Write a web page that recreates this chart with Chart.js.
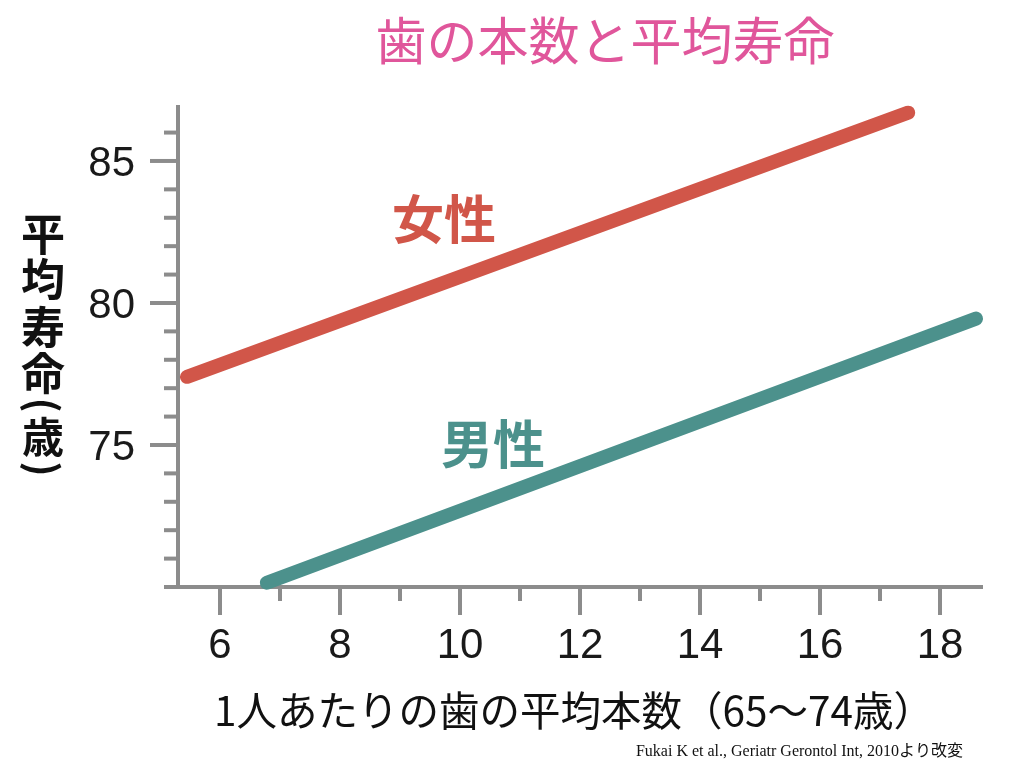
<!DOCTYPE html>
<html>
<head>
<meta charset="utf-8">
<script src="https://cdn.jsdelivr.net/npm/chart.js@4/dist/chart.umd.min.js"></script>
<style>
  html, body { margin: 0; padding: 0; background: #fff; }
  #wrap { width: 1024px; height: 768px; position: relative; }
</style>
</head>
<body>
<div id="wrap"><canvas id="myChart"></canvas></div>
<script>
// values
var femaleX = [5.45, 17.47];
var femaleY = [77.4, 86.7];
var maleX = [6.78, 18.6];
var maleY = [70.15, 79.45];
var xLabelTicks = [6, 8, 10, 12, 14, 16, 18];
var yLabelTicks = [75, 80, 85];

var titleText = '歯の本数と平均寿命';
var xTitleText = '1人あたりの歯の平均本数（65〜74歳）';
var yTitleChars = ['平', '均', '寿', '命', '(', '歳', ')'];
var sourceText = 'Fukai K et al., Geriatr Gerontol Int, 2010より改変';

var red = 'rgb(209, 86, 73)';
var teal = 'rgb(76, 145, 140)';
var axisGray = '#8c8c8c';
var cjk = '"Noto Sans CJK JP", "Noto Sans", sans-serif';

function toPoints(xs, ys) {
    return xs.map(function (x, i) { return { x: x, y: ys[i] }; });
}

// tick marks: long ones under labels, short ones in between
var tickMarks = {
    id: 'tickMarks',
    afterDraw: function (chart) {
        var c = chart.ctx;
        var xs = chart.scales.x, ys = chart.scales.y;
        var a = chart.chartArea;
        c.save();
        c.strokeStyle = axisGray;
        c.lineWidth = 4;
        xs.ticks.forEach(function (t) {
            var px = xs.getPixelForValue(t.value);
            var len = xLabelTicks.indexOf(t.value) >= 0 ? 28 : 14;
            c.beginPath();
            c.moveTo(px, a.bottom);
            c.lineTo(px, a.bottom + len);
            c.stroke();
        });
        ys.ticks.forEach(function (t) {
            var py = ys.getPixelForValue(t.value);
            var len = yLabelTicks.indexOf(t.value) >= 0 ? 28 : 14;
            c.beginPath();
            c.moveTo(a.left, py);
            c.lineTo(a.left - len, py);
            c.stroke();
        });
        c.restore();
    }
};

// title, series names, axis titles, source
var texts = {
    id: 'texts',
    afterDraw: function (chart) {
        var c = chart.ctx;
        c.save();
        c.textAlign = 'center';
        c.textBaseline = 'middle';

        c.fillStyle = '#e0569b';
        c.font = '51px ' + cjk;
        c.fillText(titleText, 605, 41);

        c.font = 'bold 52px ' + cjk;
        c.fillStyle = red;
        c.fillText('女性', 444, 219);
        c.fillStyle = teal;
        c.fillText('男性', 493, 444);

        c.fillStyle = '#111';
        c.font = '40.5px ' + cjk;
        c.fillText(xTitleText, 574, 711);

        var yPos = [234, 279, 327, 373, 405, 437, 469];
        yTitleChars.forEach(function (ch, i) {
            if (ch === '(' || ch === ')') {
                c.save();
                c.translate(43, yPos[i]);
                c.rotate(Math.PI / 2);
                c.font = 'bold 40px ' + cjk;
                c.fillText(ch, 0, 0);
                c.restore();
            } else {
                c.font = 'bold ' + (ch === '歳' ? 42 : 44) + 'px ' + cjk;
                c.fillText(ch, 43, yPos[i]);
            }
        });

        c.textAlign = 'right';
        c.font = '16px "Liberation Serif", "Noto Sans CJK JP", serif';
        c.fillText(sourceText, 963, 752);
        c.restore();
    }
};

var ctx = document.getElementById('myChart').getContext('2d');

var data = {
    datasets: [
        {
            label: '女性',
            data: toPoints(femaleX, femaleY),
            borderColor: red,
            borderWidth: 14,
            borderCapStyle: 'round',
            pointRadius: 0,
            clip: false
        },
        {
            label: '男性',
            data: toPoints(maleX, maleY),
            borderColor: teal,
            borderWidth: 14,
            borderCapStyle: 'round',
            pointRadius: 0,
            clip: false
        }
    ]
};

var myChart = new Chart(ctx, {
    type: 'line',
    data: data,
    options: {
        responsive: true,
        maintainAspectRatio: false,
        animation: false,
        layout: { padding: { top: 107, right: 42, bottom: 0, left: 0 } },
        plugins: {
            legend: { display: false },
            tooltip: { enabled: false }
        },
        scales: {
            x: {
                type: 'linear',
                min: 5.3,
                max: 18.7,
                afterFit: function (s) { s.height = 181; },
                border: { display: true, color: axisGray, width: 4 },
                grid: { display: true, drawOnChartArea: false, drawTicks: true, tickLength: 28, color: 'rgba(0,0,0,0)' },
                ticks: {
                    stepSize: 1,
                    includeBounds: false,
                    autoSkip: false,
                    maxRotation: 0,
                    padding: 6,
                    color: '#1a1a1a',
                    font: { family: '"Liberation Sans", Arial, sans-serif', size: 42 },
                    callback: function (v) { return xLabelTicks.indexOf(v) >= 0 ? String(v) : ''; }
                }
            },
            y: {
                type: 'linear',
                min: 70,
                max: 86.9,
                afterFit: function (s) { s.width = 178; },
                border: { display: true, color: axisGray, width: 4 },
                grid: { display: true, drawOnChartArea: false, drawTicks: true, tickLength: 28, color: 'rgba(0,0,0,0)' },
                ticks: {
                    stepSize: 1,
                    includeBounds: false,
                    autoSkip: false,
                    padding: 15,
                    labelOffset: 3,
                    color: '#1a1a1a',
                    font: { family: '"Liberation Sans", Arial, sans-serif', size: 42 },
                    callback: function (v) { return yLabelTicks.indexOf(v) >= 0 ? String(v) : ''; }
                }
            }
        }
    },
    plugins: [tickMarks, texts]
});
</script>
</body>
</html>
